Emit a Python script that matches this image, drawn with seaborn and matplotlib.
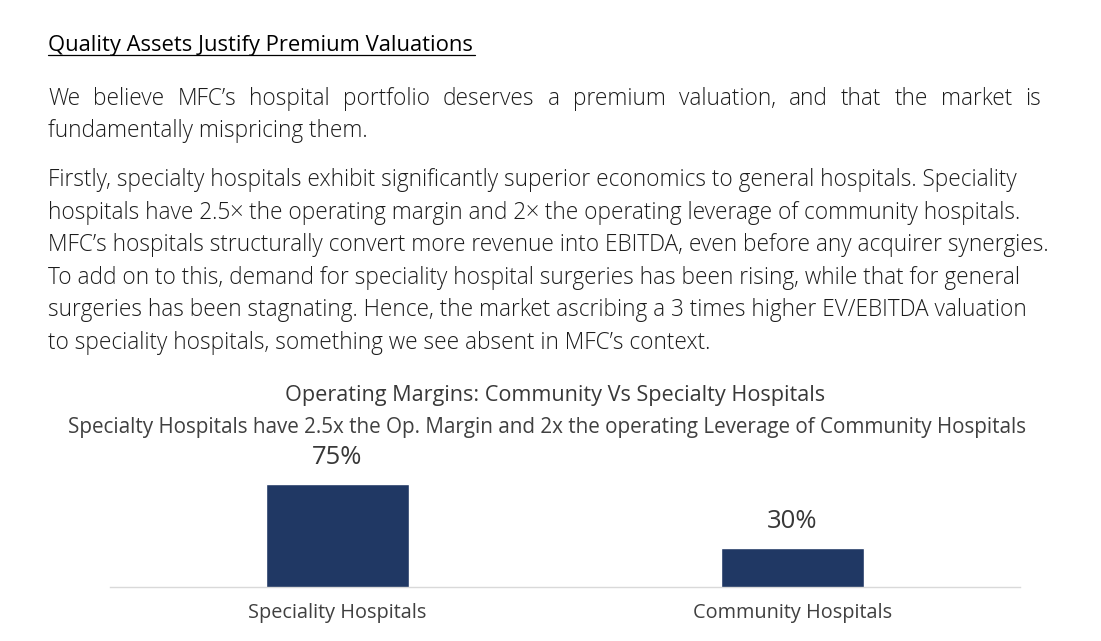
import matplotlib
matplotlib.use("Agg")
import matplotlib.pyplot as plt
from matplotlib import font_manager as fm
import seaborn as sns
import pandas as pd

# ---------------- data ----------------
categories = ["Speciality Hospitals", "Community Hospitals"]
margins = [75, 30]
value_labels = ["75%", "30%"]

heading = "Quality Assets Justify Premium Valuations"
para1 = [
    "We believe MFC’s hospital portfolio deserves a premium valuation, and that the market is",
    "fundamentally mispricing them.",
]
para2 = [
    "Firstly, specialty hospitals exhibit significantly superior economics to general hospitals. Speciality",
    "hospitals have 2.5× the operating margin and 2× the operating leverage of community hospitals.",
    "MFC’s hospitals structurally convert more revenue into EBITDA, even before any acquirer synergies.",
    "To add on to this, demand for speciality hospital surgeries has been rising, while that for general",
    "surgeries has been stagnating. Hence, the market ascribing a 3 times higher EV/EBITDA valuation",
    "to speciality hospitals, something we see absent in MFC’s context.",
]
chart_title = "Operating Margins: Community Vs Specialty Hospitals"
chart_subtitle = ("Specialty Hospitals have 2.5x the Op. Margin and 2x the operating "
                  "Leverage of Community Hospitals")

# ---------------- style ----------------
sns.set_theme(style="white")
FONT = "Open Sans"
plt.rcParams["font.family"] = [FONT, "DejaVu Sans"]

light_ok = any(f.name == FONT and (f.weight in (300, "light")) for f in fm.fontManager.ttflist)
BODY_W = "light" if light_ok else "normal"

BAR_COLOR = "#203864"
BODY_COLOR = "#1c1c1c"
CHART_TEXT = "#404040"

W, H = 1101, 641
fig = plt.figure(figsize=(W / 100, H / 100), dpi=100, facecolor="white")
renderer = fig.canvas.get_renderer()


def fx(x):
    return x / W


def fy(y):
    return 1 - y / H


def text_width(s, size, **kw):
    t = fig.text(0, 0, s, fontsize=size, **kw)
    w = t.get_window_extent(renderer).width
    t.remove()
    return w


def fit_size(s, target, **kw):
    return 10 * target / text_width(s, 10, **kw)


# ---------------- heading ----------------
h_size = fit_size(heading, 427)
fig.text(fx(48), fy(51), heading, fontsize=h_size, color="black", va="baseline", ha="left")
fig.add_artist(plt.Line2D([fx(48), fx(475)], [fy(55), fy(55)], color="black", lw=0.9,
                          transform=fig.transFigure))

# ---------------- body text ----------------
body_size = fit_size(para2[2], 997, fontweight=BODY_W)
em = body_size * 100 / 72
off = 0.36 * em


def justified(line, x0, x1, yb):
    words = line.split(" ")
    widths = [text_width(w, body_size, fontweight=BODY_W) for w in words]
    gap = (x1 - x0 - sum(widths)) / (len(words) - 1)
    x = x0
    for w, wd in zip(words, widths):
        fig.text(fx(x), fy(yb), w, fontsize=body_size, color=BODY_COLOR, fontweight=BODY_W,
                 va="baseline", ha="left")
        x += wd + gap


p1_centers = [96.6, 129.0]
justified(para1[0], 48, 1041, p1_centers[0] + off)
fig.text(fx(48), fy(p1_centers[1] + off), para1[1], fontsize=body_size, color=BODY_COLOR,
         fontweight=BODY_W, va="baseline", ha="left")

p2_centers = [178, 210.6, 243, 275.6, 308.2, 341]
for line, yc in zip(para2, p2_centers):
    fig.text(fx(48), fy(yc + off), line, fontsize=body_size, color=BODY_COLOR,
             fontweight=BODY_W, va="baseline", ha="left")

# ---------------- chart title ----------------
t_size = fit_size(chart_title, 540)
fig.text(fx(555), fy(396), chart_title, fontsize=t_size, color="#383838", ha="center",
         va="center")
s_size = fit_size(chart_subtitle, 958)
fig.text(fx(547), fy(428), chart_subtitle, fontsize=s_size, color=CHART_TEXT, ha="center",
         va="center")

# ---------------- bar chart ----------------
base_px = 586.7
top_px = 440.0
ax = fig.add_axes([fx(110), fy(base_px), (1020 - 110) / W, (base_px - top_px) / H])
df = pd.DataFrame({"cat": categories, "val": margins})
sns.barplot(data=df, x="cat", y="val", color=BAR_COLOR, saturation=1, width=0.314, ax=ax)
ax.set_xlim(-0.5, 1.5)
ax.set_ylim(3, 106.1)
ax.set_xlabel("")
ax.set_ylabel("")
ax.set_yticks([])
for side in ["top", "left", "right"]:
    ax.spines[side].set_visible(False)
ax.spines["bottom"].set_color("#d9d9d9")
ax.spines["bottom"].set_linewidth(1.0)
ax.set_facecolor("none")

tick_size = fit_size(categories[0], 178)
tick_em = tick_size * 100 / 72
pad_px = 615 - base_px - 0.62 * tick_em
ax.tick_params(axis="x", length=0, pad=pad_px * 72 / 100, labelsize=tick_size,
               labelcolor=CHART_TEXT)

val_size = fit_size(value_labels[0], 51)
for i, (v, lab) in enumerate(zip(margins, value_labels)):
    ax.annotate(lab, xy=(i, v), xytext=(0, 27 * 72 / 100), textcoords="offset points",
                ha="center", va="center", fontsize=val_size, color="#383838")

fig.savefig("out.png", dpi=100, facecolor="white")
